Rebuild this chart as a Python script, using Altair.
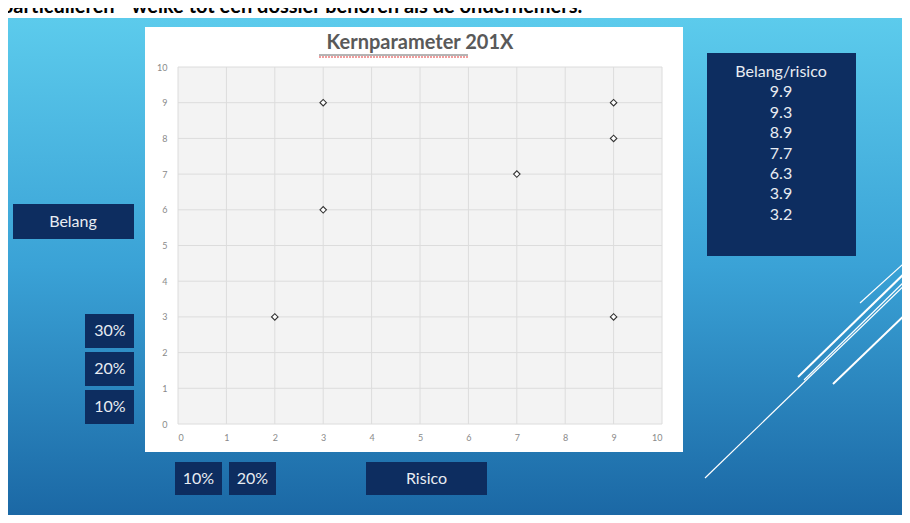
import altair as alt
import pandas as pd

# ---- data ----
risico = [2, 3, 3, 7, 9, 9, 9]
belang = [3, 9, 6, 7, 9, 8, 3]
ticks = list(range(0, 11))
chart_title = "Kernparameter 201X"
table_title = "Belang/risico"
table_values = ["9.9", "9.3", "8.9", "7.7", "6.3", "3.9", "3.2"]
top_text = "particulieren - welke tot een dossier behoren als de ondernemers."
y_name = "Belang"
x_name = "Risico"
left_labels = ["30%", "20%", "10%"]
bottom_labels = ["10%", "20%"]

points = pd.DataFrame({"Risico": risico, "Belang": belang})
tick_df = pd.DataFrame({"t": ticks})
one = pd.DataFrame({"k": [0]})

FONT = "Lato"
NAVY = "#0d2d60"
BOXTXT = "#e8ecf2"
W, H = 484, 357

scale = alt.Scale(domain=[0, 10], nice=False)
xaxis = alt.Axis(values=ticks, grid=False, domain=False, ticks=False, labelColor="#8a8a8a",
                 labelFontSize=9, labelPadding=9, labelFont=FONT, title=None, zindex=1)
yaxis = alt.Axis(values=ticks, grid=False, domain=False, ticks=False, labelColor="#8a8a8a",
                 labelFontSize=9, labelPadding=11, labelFont=FONT, title=None, zindex=1)


def rect(x1, y1, x2, y2, color):
    return alt.Chart(one).mark_rect(color=color).encode(
        x=alt.value(x1), x2=alt.value(x2), y=alt.value(y1), y2=alt.value(y2))


def txt(x, y, s, size=16, color=BOXTXT, **kw):
    return alt.Chart(one).mark_text(text=s, fontSize=size, color=color, font=FONT, **kw).encode(
        x=alt.value(x), y=alt.value(y))


def seg(x1, y1, x2, y2, color="white", width=1.5, **kw):
    return alt.Chart(one).mark_rule(color=color, strokeWidth=width, **kw).encode(
        x=alt.value(x1), x2=alt.value(x2), y=alt.value(y1), y2=alt.value(y2))


gradient = alt.LinearGradient(
    gradient="linear", x1=0, y1=0, x2=0, y2=1,
    stops=[alt.GradientStop(color="#5ccbec", offset=0),
           alt.GradientStop(color="#3aa2d6", offset=0.5),
           alt.GradientStop(color="#1b68a5", offset=1)])

layers = []
# slide background
layers.append(rect(-170, -49, 724, 448, gradient))
# cut-off heading at the top
layers.append(txt(-176, -54, top_text, size=20, color="black", fontWeight="bold",
                  align="left", baseline="alphabetic"))
# white chart card
layers.append(rect(-33, -40, 505, 385, "white"))
# plot area fill
layers.append(rect(0, 0, W, H, "#f3f3f3"))

# gridlines
layers.append(alt.Chart(tick_df).mark_rule(color="#dcdcdc", strokeWidth=1).encode(
    x=alt.X("t:Q", scale=scale, axis=xaxis)))
layers.append(alt.Chart(tick_df).mark_rule(color="#dcdcdc", strokeWidth=1).encode(
    y=alt.Y("t:Q", scale=scale, axis=yaxis)))

# scatter points
layers.append(alt.Chart(points).mark_point(shape="diamond", size=42, filled=True, fill="white",
                                           stroke="#333333", strokeWidth=1.1, opacity=1).encode(
    x=alt.X("Risico:Q", scale=scale, axis=xaxis),
    y=alt.Y("Belang:Q", scale=scale, axis=yaxis)))

# chart title with underline and spell-check squiggle
layers.append(txt(242, -24, chart_title, size=20, color="#595959", fontWeight="bold",
                  align="center", baseline="middle"))
layers.append(seg(141, -12, 290, -12, color="#6a6a6a", width=1))
layers.append(seg(141, -10, 290, -10, color="#e03c3c", width=1, strokeDash=[2, 1]))

# right table box
layers.append(rect(529, -14, 678, 189, NAVY))
layers.append(txt(603, -3, [table_title] + table_values, size=16, align="center",
                  baseline="top", lineHeight=20.4))

# "Belang" box
layers.append(rect(-165, 137, -44, 172, NAVY))
layers.append(txt(-105, 155, y_name, align="center", baseline="middle"))

# left percentage boxes
for i, lab in enumerate(left_labels):
    y0 = 247 + 38 * i
    layers.append(rect(-93, y0, -44, y0 + 34, NAVY))
    layers.append(txt(-68, y0 + 17, lab, align="center", baseline="middle"))

# bottom percentage boxes
for i, lab in enumerate(bottom_labels):
    x0 = -3 + 54 * i
    layers.append(rect(x0, 395, x0 + 47, 428, NAVY))
    layers.append(txt(x0 + 23.5, 411.5, lab, align="center", baseline="middle"))

# "Risico" box
layers.append(rect(188, 395, 309, 428, NAVY))
layers.append(txt(248.5, 411.5, x_name, align="center", baseline="middle"))

# decorative diagonal lines
layers.append(seg(527, 411, 734, 211, width=1.2))
layers.append(seg(620, 310, 734, 199, width=2))
layers.append(seg(626, 313, 734, 207, width=1.2))
layers.append(seg(682, 236, 734, 189, width=1.2))
layers.append(seg(655, 317, 734, 241, width=2))

chart = alt.layer(*layers).properties(
    width=W, height=H,
    autosize=alt.AutoSizeParams(type="none"),
    padding={"left": 170, "top": 59, "right": 240, "bottom": 91},
    background="white",
).configure_view(stroke=None)

chart.save("out.html", embed_options={"renderer": "svg", "actions": False})
